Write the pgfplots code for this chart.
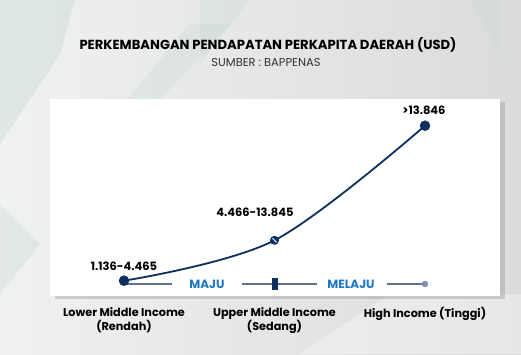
\documentclass[border=0pt]{standalone}
\usepackage{fontspec}
\setmainfont{Poppins}
\usepackage{pgfplots}
\pgfplotsset{compat=1.18}
\usetikzlibrary{shadows}
\definecolor{navy}{HTML}{0D2F5E}
\definecolor{basec}{HTML}{5E7393}
\definecolor{dotc}{HTML}{8090AE}
\definecolor{blu}{HTML}{1E78C8}
\definecolor{bgl}{HTML}{F0F1F1}
\definecolor{bgr}{HTML}{DADBDD}
\definecolor{arrowc}{HTML}{BFD6D2}
\pgfdeclareplotmark{slashdot}{%
  \pgfpathcircle{\pgfpointorigin}{\pgfplotmarksize}\pgfusepathqfill
  \pgfsetstrokecolor{white}\pgfsetlinewidth{0.9bp}%
  \pgfpathmoveto{\pgfpoint{-0.45\pgfplotmarksize}{0.45\pgfplotmarksize}}%
  \pgfpathlineto{\pgfpoint{0.45\pgfplotmarksize}{-0.45\pgfplotmarksize}}%
  \pgfusepathqstroke}
\begin{document}
\begin{tikzpicture}[x=1bp,y=1bp]
\shade[left color=bgl,right color=bgr] (0,0) rectangle (521,354);
% faint background arrows
\fill[arrowc,opacity=0.35] (0,210) -- (60,300) -- (75,354) -- (0,354) -- cycle;
\fill[arrowc,opacity=0.30] (0,60) -- (40,110) -- (0,150) -- cycle;
\fill[arrowc,opacity=0.25] (200,290) -- (250,354) -- (200,354) -- cycle;
\fill[arrowc,opacity=0.25] (110,200) -- (230,330) -- (190,330) -- (90,210) -- cycle;
\fill[white,opacity=0.35] (300,0) -- (390,60) -- (521,60) -- (521,0) -- cycle;
\fill[arrowc,opacity=0.20] (470,354) -- (500,300) -- (500,354) -- cycle;
% title
\node[font=\bfseries\fontsize{13.2}{15}\selectfont, text=black] at (268,309) {PERKEMBANGAN PENDAPATAN PERKAPITA DAERAH (USD)};
\node[font=\fontsize{11.5}{13}\selectfont, text=black!80] at (266,291.5) {SUMBER : BAPPENAS};
\begin{axis}[
  at={(50bp,58bp)}, anchor=south west, scale only axis,
  width=450bp, height=197bp,
  xmin=-0.4917, xmax=2.4983, ymin=0, ymax=197,
  axis line style={draw=none},
  axis background/.style={fill=white, drop shadow={shadow xshift=5bp, shadow yshift=-3bp, opacity=0.3}},
  ytick=\empty, xtick={0,1,2}, major tick length=0pt,
  xticklabels={{Lower Middle Income\\(Rendah)},{Upper Middle Income\\(Sedang)},{High Income (Tinggi)}},
  xticklabel style={align=center, font=\bfseries\fontsize{11.3}{14}\selectfont, text=black, anchor=north, yshift=-8bp},
  clip=false,
]
% baseline segments
\addplot[basec, line width=1.8bp] coordinates {(0,12) (0.319,12)};
\addplot[basec, line width=1.8bp] coordinates {(0.784,12) (1.282,12)};
\addplot[basec, line width=1.8bp] coordinates {(1.748,12) (2.0,12)};
\addplot[only marks, mark=*, mark size=3bp, dotc] coordinates {(2.0,12)};
\addplot[only marks, mark=|, mark size=6bp, navy, mark options={line width=6bp}] coordinates {(1.0,12)};
% curve
\addplot[navy, line width=1.8bp, smooth, tension=0.55] coordinates {(0,15.3) (1,55.7) (2,170.3)};
\addplot[only marks, mark=*, mark size=5bp, navy] coordinates {(0,15.3) (2,170.3)};
\addplot[only marks, mark=slashdot, mark size=4.5bp, navy, fill=navy] coordinates {(1,55.7)};
% labels
\node[font=\bfseries\fontsize{11.5}{13}\selectfont] at (axis cs:0,30) {1.136-4.465};
\node[font=\bfseries\fontsize{11.5}{13}\selectfont] at (axis cs:0.870,84) {4.466-13.845};
\node[font=\bfseries\fontsize{11.5}{13}\selectfont] at (axis cs:1.993,186) {>13.846};
\node[font=\bfseries\fontsize{12}{13}\selectfont, text=blu] at (axis cs:0.551,12) {MAJU};
\node[font=\bfseries\fontsize{12}{13}\selectfont, text=blu] at (axis cs:1.508,12) {MELAJU};
\end{axis}
\end{tikzpicture}
\end{document}
